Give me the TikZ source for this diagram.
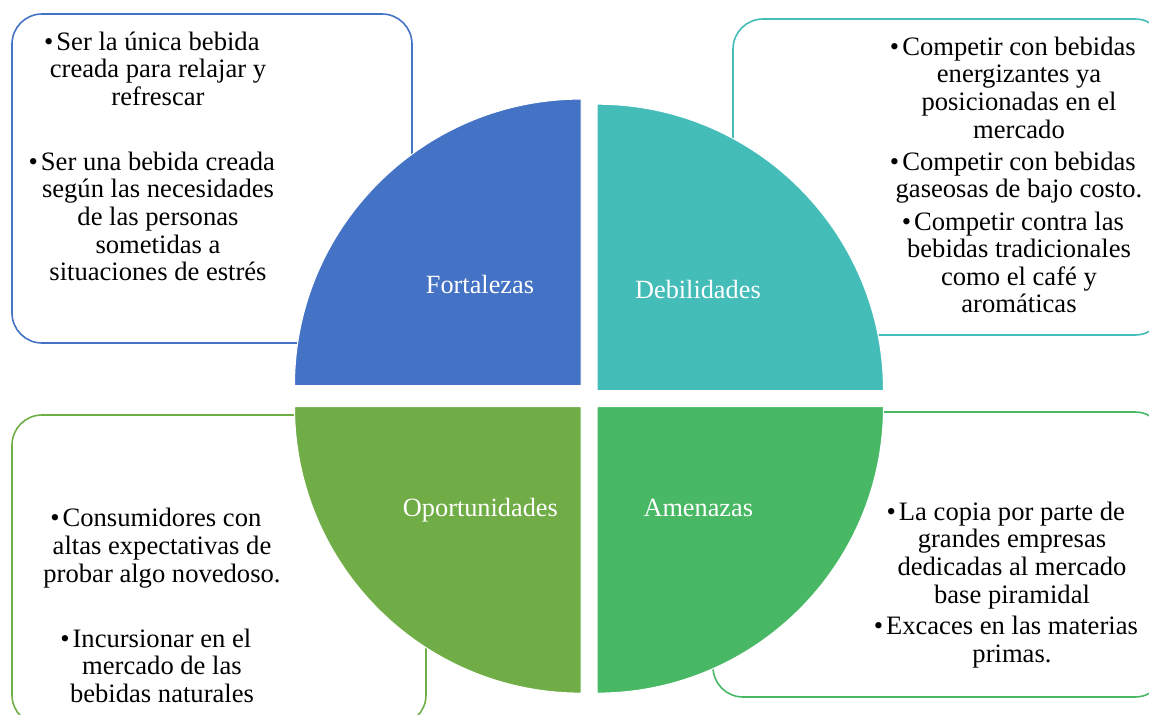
\documentclass[tikz,border=0pt]{standalone}
\usepackage{fontspec}
\setmainfont{Liberation Serif}
\definecolor{fcol}{HTML}{4472C4}
\definecolor{dcol}{HTML}{44BDB9}
\definecolor{ocol}{HTML}{70AD47}
\definecolor{acol}{HTML}{48B865}
\tikzset{panel/.style={draw=#1, line width=1.6pt, rounded corners=30pt, inner sep=0pt},
         quad/.style = {fill=#1, draw=white, line width=1pt},
         qlabel/.style = {text=white, anchor=base, inner sep=0pt, font=\fontsize{26.3}{28}\selectfont},
         swot/.style = {align=center, anchor=north, inner sep=0pt, font=\fontsize{26.6}{27.6}\selectfont}}
\def\qrad{286.5}
\newcommand\swotbul{\llap{\textbullet\hspace{3pt}}}

\begin{document}
\begin{tikzpicture}[x=1pt,y=1pt]
\useasboundingbox (0,0) rectangle (1149,-715);

% Boxes behind the circle
\node (fortbox) [panel=fcol, minimum width=400, minimum height=329] at (212,-178.5) {};
\node (debibox) [panel=dcol, minimum width=432, minimum height=316] at (949,-177) {};
\node (oporbox) [panel=ocol, minimum width=414, minimum height=310] at (219,-570) {};
\node (amenbox) [panel=acol, minimum width=452, minimum height=285] at (939,-554.5) {};

\node (forttxt) [swot] at (158,-30.7) {\strut\swotbul Ser la única bebida\\ creada para relajar y\\ refrescar\\[37.2pt]
  \swotbul Ser una bebida creada\\ según las necesidades\\ de las personas\\ sometidas a\\ situaciones de estrés};
\node (debitxt) [swot] at (1019,-35.7) {\strut\swotbul Competir con bebidas\\ energizantes ya\\ posicionadas en el\\ mercado\\[4.6pt]
  \swotbul Competir con bebidas\\ gaseosas de bajo costo.\\[4.6pt]
  \swotbul Competir contra las\\ bebidas tradicionales\\ como el café y\\ aromáticas};
\node (oportxt) [swot] at (162,-507.4) {\strut\swotbul Consumidores con\\ altas expectativas de\\ probar algo novedoso.\\[37.5pt]
  \swotbul Incursionar en el\\ mercado de las\\ bebidas naturales};
\node (amentxt) [swot] at (1012,-500.7) {\strut\swotbul La copia por parte de\\ grandes empresas\\ dedicadas al mercado\\ base piramidal\\[3.9pt]
  \swotbul Excaces en las materias\\ primas.};

% The four quarters
\path [quad=fcol] (581,-385.6) -- ++(-\qrad,0) arc[start angle=180, end angle=90, radius=\qrad] -- cycle;
\path [quad=dcol] (597,-390.7) -- ++(0,\qrad) arc[start angle=90, end angle=0, radius=\qrad] -- cycle;
\path [quad=ocol] (581,-406.6) -- ++(-\qrad,0) arc[start angle=180, end angle=270, radius=\qrad] -- cycle;
\path [quad=acol] (597,-406.6) -- ++(\qrad,0) arc[start angle=0, end angle=-90, radius=\qrad] -- cycle;

\node (fort) [qlabel] at (480,-293.5) {Fortalezas};
\node (debi) [qlabel] at (697.9,-298) {Debilidades};
\node (opor) [qlabel] at (480.4,-516.5) {Oportunidades};
\node (amen) [qlabel] at (698.3,-516.5) {Amenazas};
\end{tikzpicture}
\end{document}
